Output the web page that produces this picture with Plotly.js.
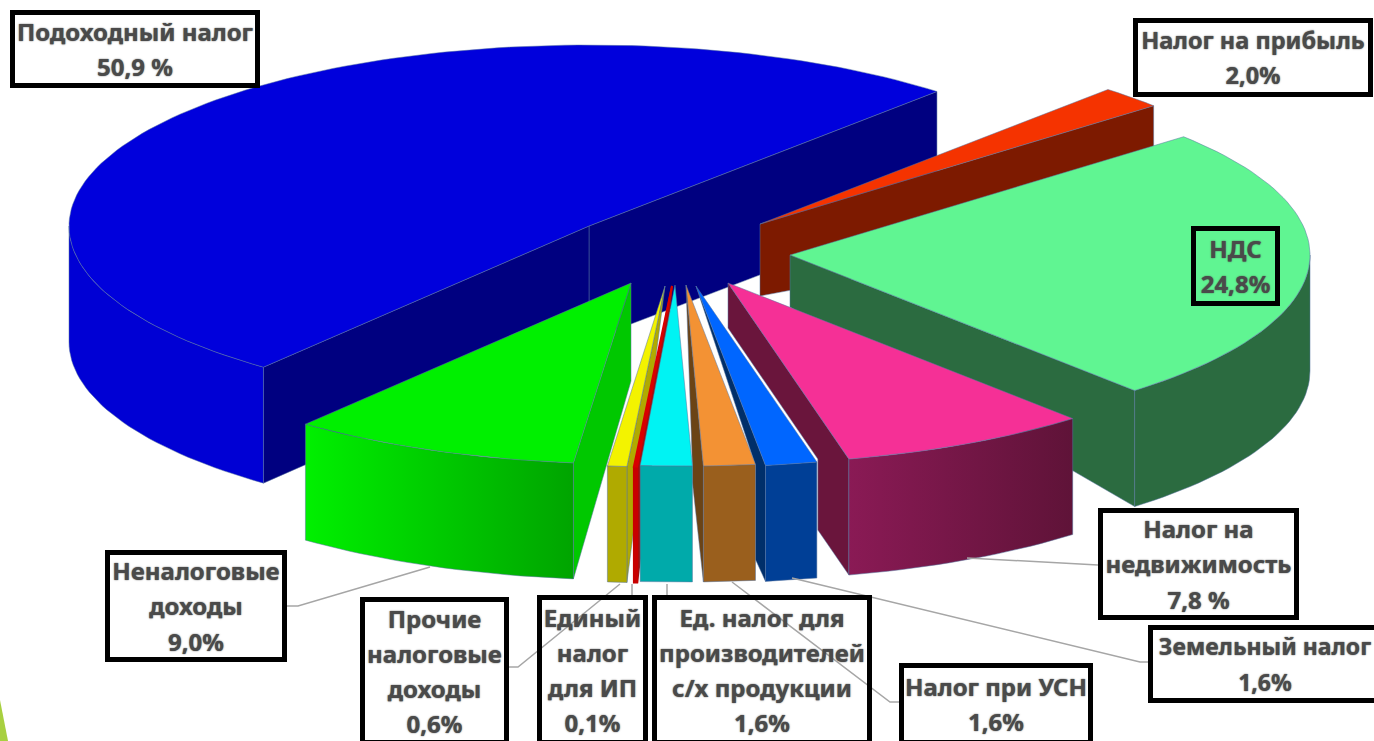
<!DOCTYPE html>
<html>
<head>
<meta charset="utf-8">
<script src="https://cdn.plot.ly/plotly-3.0.1.min.js"></script>
<style>html,body{margin:0;padding:0;background:#fff;overflow:hidden}#chart{width:1374px;height:741px}</style>
</head>
<body>
<div id="chart"></div>
<script>
// ---- data ----
var categories = ['Налог на прибыль','НДС','Налог на недвижимость','Земельный налог','Налог при УСН','Ед. налог для производителей с/х продукции','Единый налог для ИП','Прочие налоговые доходы','Неналоговые доходы','Подоходный налог'];
var shares = [2.0,24.8,7.8,1.6,1.6,1.6,0.1,0.6,9.0,50.9];
var shareLabels = ['2,0%','24,8%','7,8 %','1,6%','1,6%','1,6%','0,1%','0,6%','9,0%','50,9 %'];

// ---- colours ----
var topColors  = ['#f53300','#60f592','#f53096','#0066ff','#f39234','#00f3f3','#d80000','#f3f300','#00f000','#0000dc'];
var wallColors = ['#7d1a00','#2b6b40','#8a1a55','#003f96','#9a5f1d','#00aaaa','#c80000','#b0aa00','#00f000','#0000d4'];
var wallEnds   = ['#7d1a00','#2b6b40','#5f1338','#003f96','#9a5f1d','#00aaaa','#c80000','#b0aa00','#00a400','#0000d4'];
var faceColors = ['#7d1a00','#2b6b40','#6a153c','#002f6a','#6b4315','#00aaaa','#a01010','#b0aa00','#00c800','#000080'];

// ---- exploded-pie projection ----
var RX = 520, RY = 181, DEPTH = 116, START = 48;
var apexX = [760,790,728,696,686,675,672,665,631,589];
var apexY = [224,255,283,286,285,285,286,286,283,226];
var apexDepth = [72,52,45,0,0,0,0,0,98,114];
var notchW = [0,0,31,10,11,0,0,0,0,0];
var notchD = [0,0,45,22,100,0,0,0,0,0];
var paintOrder = [9,0,1,8,7,6,2,3,4,5];

function rad(d){return d*Math.PI/180;}
function ox(i,t){return apexX[i]+RX*Math.cos(rad(t));}
function oy(i,t){return apexY[i]-RY*Math.sin(rad(t));}
var edge = 'rgba(85,115,160,0.5)';
var traces = [];
function poly(i,xs,ys,fill,grad){
  // the 0.1 % sliver gets a same-coloured outline so it stays visible
  var line = shares[i] < 0.5 ? {color:fill,width:2} : {color:edge,width:1};
  var tr = {type:'scatter',mode:'lines',name:categories[i],x:xs.concat([xs[0]]),y:ys.concat([ys[0]]),fill:'toself',
    fillcolor:fill,line:line,hoverinfo:'name',showlegend:false};
  if(grad){tr.fillgradient={type:'horizontal',colorscale:[[0,grad[0]],[1,grad[1]]]};}
  traces.push(tr);
}
function face(i,t){
  var X=ox(i,t),Y=oy(i,t),A=apexX[i],B=apexY[i];
  var xs=[A,X,X],ys=[B,Y,Y+DEPTH];
  if(notchW[i]>0){xs.push(X-notchW[i],X-notchW[i]);ys.push(Y+DEPTH-notchD[i],Y);}
  if(apexDepth[i]>0){xs.push(A);ys.push(B+apexDepth[i]);}
  poly(i,xs,ys,faceColors[i]);
}
var cur = START, ranges = [];
shares.forEach(function(s){ranges.push([cur-3.6*s,cur]);cur-=3.6*s;});

paintOrder.forEach(function(i){
  var lo=ranges[i][0],hi=ranges[i][1];
  if(Math.cos(rad(lo))>0) face(i,lo);
  if(Math.cos(rad(hi))<0) face(i,hi);
  var wl=Math.max(lo,-180),wh=Math.min(hi,0);
  if(wh>wl){
    var ax=[],ay=[],n=Math.max(2,Math.ceil((wh-wl)/1.5));
    for(var k=0;k<=n;k++){var t=wl+(wh-wl)*k/n;ax.push(ox(i,t));ay.push(oy(i,t));}
    var bx=ax.slice().reverse(),by=ay.slice().reverse().map(function(v){return v+DEPTH;});
    var grad = wallColors[i]!==wallEnds[i]?[wallColors[i],wallEnds[i]]:null;
    poly(i,ax.concat(bx),ay.concat(by),wallColors[i],grad);
  }
  var tx=[apexX[i]],ty=[apexY[i]],m=Math.max(2,Math.ceil((hi-lo)/1.5));
  for(var j=0;j<=m;j++){var u=lo+(hi-lo)*j/m;tx.push(ox(i,u));ty.push(oy(i,u));}
  poly(i,tx,ty,topColors[i]);
});

// ---- leader lines ----
var leaderX = [[430,298,287],[620,518,509],[632,632],[667,667],[732,890,900],[792,1140,1148],[967,1098]];
var leaderY = [[567,606,606],[584,667,667],[584,597],[584,597],[582,702,702],[578,662,662],[558,565]];
leaderX.forEach(function(lx,i){
  traces.push({type:'scatter',mode:'lines',x:lx,y:leaderY[i],line:{color:'#a6a6a6',width:1.5},hoverinfo:'skip',showlegend:false});
});

// ---- labels ----
var boxText = [
 'Налог на прибыль<br>2,0%','НДС<br>24,8%','Налог на<br>недвижимость<br>7,8 %','Земельный налог<br>1,6%','Налог при УСН<br>1,6%',
 'Ед. налог для<br>производителей<br>с/х продукции<br>1,6%','Единый<br>налог<br>для ИП<br>0,1%','Прочие<br>налоговые<br>доходы<br>0,6%','Неналоговые<br>доходы<br>9,0%','Подоходный налог<br>50,9 %'];
var boxLeft   = [1133,1191,1098,1148,899,652,537,360,105,10];
var boxRight  = [1373,1280,1299,1382,1093,872,648,509,287,260];
var boxTop    = [18,226,508,625,663,595,595,597,550,10];
var boxBottom = [97,306,620,703,745,745,745,745,662,88];
var labelSize = [23.5,24,24,23,24,24,24,24,24,24];
var annotations = boxText.map(function(txt,i){
  return {xref:'x',yref:'y',x:(boxLeft[i]+boxRight[i])/2,y:(boxTop[i]+boxBottom[i])/2,xanchor:'center',yanchor:'middle',
    text:txt.split('<br>').map(function(l){return '<span style="font-size:'+labelSize[i]+'px">'+l+'</span>';}).join('<br>'),
    showarrow:false,align:'center',valign:'middle',
    width:boxRight[i]-boxLeft[i]-10,height:boxBottom[i]-boxTop[i]-10,
    bordercolor:'#000',borderwidth:5,borderpad:0,bgcolor:'rgba(0,0,0,0)',
    font:{family:'"Noto Sans", sans-serif',size:27,color:'#4a4a4a',weight:700,shadow:'0 0 1.5px #4a4a4a'}};
});

var layout = {
  width:1374,height:741,margin:{l:0,r:0,t:0,b:0,pad:0},paper_bgcolor:'#fff',plot_bgcolor:'#fff',showlegend:false,hovermode:'closest',
  xaxis:{range:[0,1374],visible:false,fixedrange:true},
  yaxis:{range:[741,0],visible:false,fixedrange:true},
  annotations:annotations,
  shapes:[{type:'path',xref:'x',yref:'y',path:'M0,700 L8,741 L0,741 Z',fillcolor:'#a8d040',line:{width:0},layer:'below'}]
};
Plotly.newPlot('chart',traces,layout,{displayModeBar:false});
</script>
</body>
</html>
